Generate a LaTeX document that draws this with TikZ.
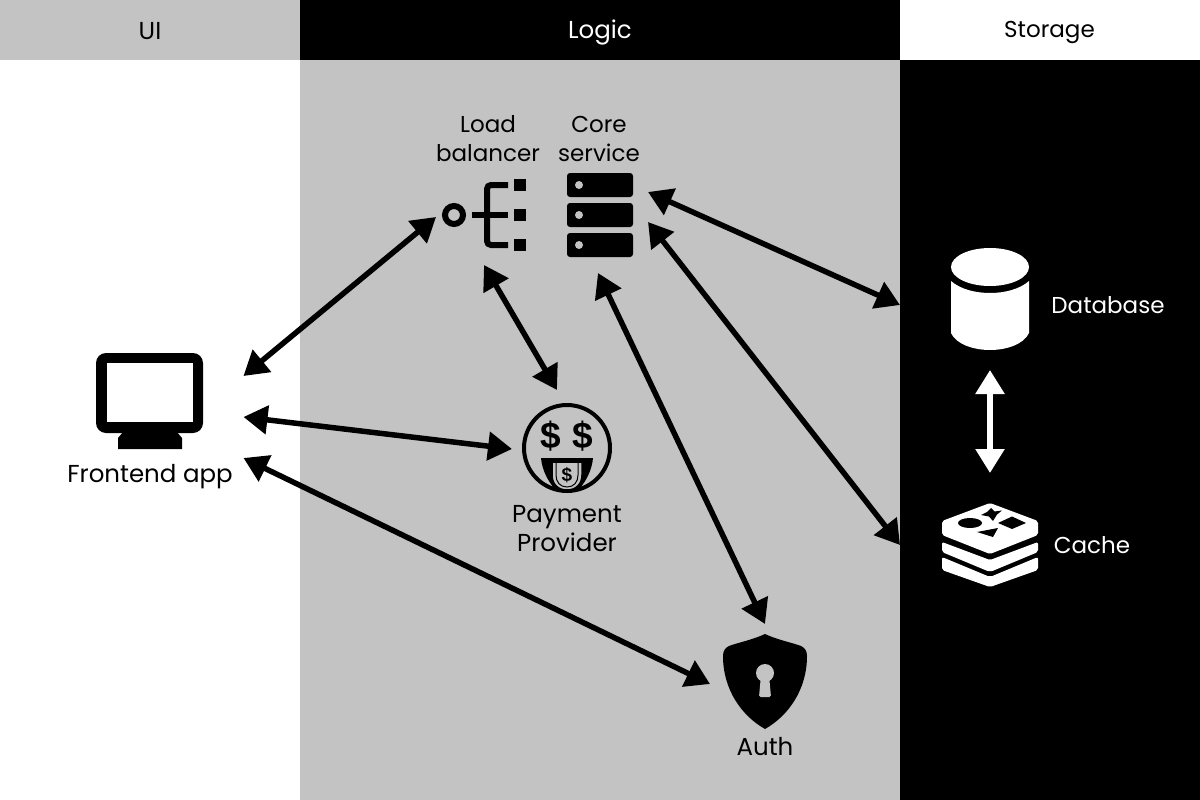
\documentclass[tikz,border=0pt]{standalone}
\usepackage{fontspec}
\setmainfont{Poppins}
\newfontfamily\dollarfont{Liberation Sans}
\usetikzlibrary{arrows.meta}
\definecolor{bandgray}{HTML}{C3C3C3}
\begin{document}
\begin{tikzpicture}[x=1pt, y=-1pt]
  \tikzstyle{band_head} = [shape = rectangle, minimum width=300pt, minimum height=60pt, inner sep=0pt]
  \tikzstyle{ana_label} = [align = center, inner sep=0pt, font=\fontsize{23}{29}\selectfont]
  \tikzstyle{ana_wide}  = [align = center, inner sep=0pt, font=\fontsize{24.5}{29}\selectfont]
  \tikzstyle{ana_icon}  = [shape = rectangle, inner sep=0pt, outer sep=0pt]
  \tikzstyle{ana_link}  = [draw, {Triangle[length=24pt,width=28pt]}-{Triangle[length=24pt,width=28pt]}, line width=5.5pt]

  \useasboundingbox (0,0) rectangle (1200,800);

  \fill[bandgray] (300,60) rectangle (900,800);
  \fill[black]    (900,60) rectangle (1200,800);

  \node[band_head, fill=bandgray]            at (150,30)  (ui_head)      {};
  \node[band_head, fill=black, minimum width=600pt] at (600,30) (logic_head) {};
  \node[band_head]                           at (1050,30) (storage_head) {};
  \node[ana_wide]              at (150,31)    (ui_lbl)      {UI};
  \node[ana_wide, text=white]  at (600,32.5)  (logic_lbl)   {Logic};
  \node[ana_label]             at (1049.5,32) (storage_lbl) {Storage};

  \node[ana_icon, minimum width=187pt, minimum height=82pt]  at (150,417) (frontend) {};
  \node[ana_icon, minimum width=96pt,  minimum height=96pt]  at (484,217) (balancer) {};
  \node[ana_icon, minimum width=100pt, minimum height=102pt] at (598,222) (core) {};
  \node[ana_icon, minimum width=110pt, minimum height=118pt] at (567,449) (payment) {};
  \node[ana_icon, minimum width=110pt, minimum height=120pt] at (765,684) (auth) {};
  \node[ana_icon, minimum width=180pt, minimum height=130pt] at (990,305) (database) {};
  \node[ana_icon, minimum width=180pt, minimum height=144pt] at (990,545) (cache) {};

  \node[ana_wide]              at (150,477)  (frontend_lbl) {Frontend app};
  \node[ana_label]             at (488,139)  (balancer_lbl) {Load\\balancer};
  \node[ana_label]             at (599,139)  (core_lbl)     {Core\\service};
  \node[ana_wide]              at (567,529)  (payment_lbl)  {Payment\\Provider};
  \node[ana_wide]              at (765,747)  (auth_lbl)     {Auth};
  \node[ana_label, text=white] at (1108,305) (database_lbl) {Database};
  \node[ana_label, text=white] at (1092,545) (cache_lbl)    {Cache};

  % frontend
  \fill[black, rounded corners=10pt] (96,353) rectangle (203,433);
  \fill[white] (107,363) rectangle (193,422);
  \fill[black] (123,432) -- (177,432) -- (182,438) -- (182,449) -- (118,449) -- (118,438) -- cycle;

  % balancer
  \draw[black, line width=6pt] (454,215) circle (9);
  \draw[black, line width=6pt] (472,215) -- (508,215);
  \draw[black, line width=6pt, rounded corners=4pt] (508,185) -- (487,185) -- (487,245) -- (508,245);
  \fill[black] (514,179) rectangle (526,191);
  \fill[black] (514,209) rectangle (526,221);
  \fill[black] (514,239) rectangle (526,251);

  % core
  \fill[black, rounded corners=3pt] (567,173) rectangle (633,197);
  \fill[black, rounded corners=3pt] (567,203) rectangle (633,227);
  \fill[black, rounded corners=3pt] (567,233) rectangle (633,257);
  \fill[bandgray] (579,185) circle (4);
  \fill[bandgray] (579,215) circle (4);
  \fill[bandgray] (579,245) circle (4);

  % payment
  \draw[black, line width=4pt] (567,448) circle (43);
  \node[inner sep=0pt, font=\dollarfont\fontsize{37}{37}\selectfont\bfseries] at (550.5,436) (dollar_l) {\$};
  \node[inner sep=0pt, font=\dollarfont\fontsize{37}{37}\selectfont\bfseries] at (583,436) (dollar_r) {\$};
  \fill[black] (541,458) -- (593,458) .. controls (592,470) and (586,481) .. (580,488) -- (554,488) .. controls (548,481) and (542,470) .. (541,458) -- cycle;
  \draw[black, line width=1.5pt, fill=bandgray] (552,462) -- (552,475) .. controls (552,484) and (558,490) .. (567,490) .. controls (576,490) and (582,484) .. (582,475) -- (582,462) -- cycle;
  \draw[black, line width=1pt] (556,462) -- (556,475) .. controls (556,482) and (560,487) .. (567,487) .. controls (574,487) and (578,482) .. (578,475) -- (578,462);
  \node[inner sep=0pt, font=\dollarfont\fontsize{19}{19}\selectfont\bfseries] at (567,475) (dollar_t) {\$};

  % auth
  \fill[black] (765,634) .. controls (752,640) and (740,642) .. (729,646) .. controls (725,648) and (723,651) .. (723,656) .. controls (723,690) and (742,716) .. (765,729) .. controls (788,716) and (807,690) .. (807,656) .. controls (807,651) and (805,648) .. (801,646) .. controls (790,642) and (778,640) .. (765,634) -- cycle;
  \fill[bandgray] (765,673) circle (9);
  \fill[bandgray, rounded corners=1.5pt] (761,675) -- (769,675) -- (771,697) -- (759,697) -- cycle;

  % database
  \fill[white] (990,267) ellipse (39 and 19);
  \fill[white] (951,281) .. controls (960,289) and (975,293) .. (990,293) .. controls (1005,293) and (1020,289) .. (1029,281) -- (1029,333) .. controls (1024,344) and (1007,350) .. (990,350) .. controls (973,350) and (956,344) .. (951,333) -- cycle;

  % cache
  \fill[white, rounded corners=2pt] (942,557) -- (990,577) -- (1038,557) -- (1038,570) -- (990,587) -- (942,570) -- cycle;
  \fill[white, rounded corners=2pt] (942,542) -- (990,560) -- (1038,542) -- (1038,552) -- (990,572) -- (942,552) -- cycle;
  \fill[white, rounded corners=2pt] (990,503) -- (1038,521) -- (1038,535) -- (990,554) -- (942,535) -- (942,521) -- cycle;
  \fill[black] (970,523) ellipse (12 and 5);
  \fill[black] (1012,516.5) -- (1026,523) -- (1012,529) -- (998,523) -- cycle;
  \fill[black] (977,532) -- (998,528) -- (993,537) -- cycle;
  \fill[black] (991,508) -- (994.5,511.5) -- (1002,510.5) -- (997,514.5) -- (993,521) -- (989,516.5) -- (981,515) -- (987,512) -- cycle;

  \path
    (frontend.north east) edge[ana_link] (balancer.west)
    (frontend.east) edge[ana_link] (payment.west)
    (frontend.south east) edge[ana_link] (auth.west)
    (balancer.south) edge[ana_link] ([xshift=-10pt]payment.north)
    (core.south) edge[ana_link] (auth.north)
    ([yshift=30pt]core.east) edge[ana_link] (database.west)
    (core.east) edge[ana_link] (cache.west)
    (database.south) edge[ana_link, white] (cache.north)
  ;
\end{tikzpicture}
\end{document}
